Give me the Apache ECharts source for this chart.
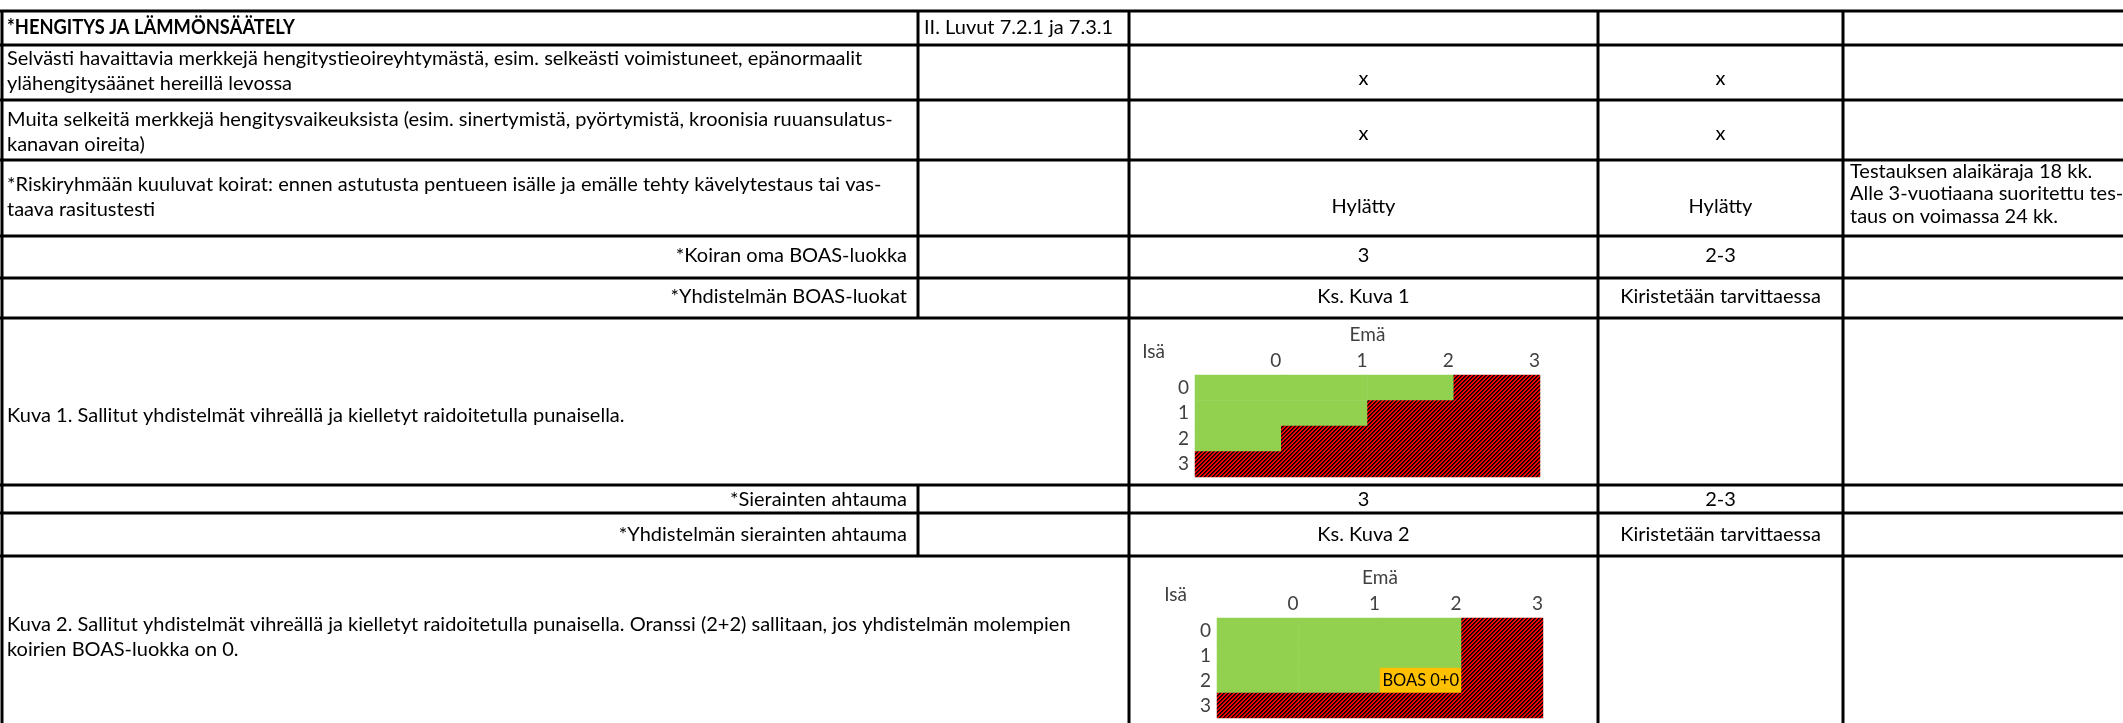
<!DOCTYPE html>
<html><head><meta charset="utf-8">
<script src="https://cdn.jsdelivr.net/npm/echarts@6/dist/echarts.min.js"></script>
<style>html,body{margin:0;padding:0;background:#fff;overflow:hidden}#c{width:2123px;height:723px}</style>
</head><body><div id="c"></div>
<script>
// ---------- DATA ----------
const criteria = [
  '*HENGITYS JA LÄMMÖNSÄÄTELY',
  'Selvästi havaittavia merkkejä hengitystieoireyhtymästä, esim. selkeästi voimistuneet, epänormaalit\nylähengitysäänet hereillä levossa',
  'Muita selkeitä merkkejä hengitysvaikeuksista (esim. sinertymistä, pyörtymistä, kroonisia ruuansulatus-\nkanavan oireita)',
  '*Riskiryhmään kuuluvat koirat: ennen astutusta pentueen isälle ja emälle tehty kävelytestaus tai vas-\ntaava rasitustesti',
  '*Koiran oma BOAS-luokka',
  '*Yhdistelmän BOAS-luokat',
  'Kuva 1. Sallitut yhdistelmät vihreällä ja kielletyt raidoitetulla punaisella.',
  '*Sierainten ahtauma',
  '*Yhdistelmän sierainten ahtauma',
  'Kuva 2. Sallitut yhdistelmät vihreällä ja kielletyt raidoitetulla punaisella. Oranssi (2+2) sallitaan, jos yhdistelmän molempien\nkoirien BOAS-luokka on 0.'
];
const references = ['II. Luvut 7.2.1 ja 7.3.1', '', '', '', '', '', '', '', '', ''];
const colC = ['', 'x', 'x', 'Hylätty', '3', 'Ks. Kuva 1', '', '3', 'Ks. Kuva 2', ''];
const colD = ['', 'x', 'x', 'Hylätty', '2-3', 'Kiristetään tarvittaessa', '', '2-3', 'Kiristetään tarvittaessa', ''];
const colE = ['', '', '', 'Testauksen alaikäraja 18 kk.\nAlle 3-vuotiaana suoritettu tes-\ntaus on voimassa 24 kk.', '', '', '', '', '', ''];

// Figure axes
const emaLabels = ['0', '1', '2', '3'];   // Emä (columns)
const isaLabels = ['0', '1', '2', '3'];   // Isä (rows)
const emaName = 'Emä';
const isaName = 'Isä';
// status: 0 = sallittu (vihreä), 1 = kielletty (raidoitettu punainen), 2 = oranssi
const kuva1Status = [
  [0, 0, 0, 1],
  [0, 0, 1, 1],
  [0, 1, 1, 1],
  [1, 1, 1, 1]
];
const kuva2Status = [
  [0, 0, 0, 1],
  [0, 0, 0, 1],
  [0, 0, 2, 1],
  [1, 1, 1, 1]
];
const orangeLabel = 'BOAS 0+0';

// ---------- LAYOUT ----------
const FONT = 'Lato, "Liberation Sans", sans-serif';
const rowBounds = [11, 45, 100, 160, 236, 278, 318, 485, 513, 556, 723];
const colX = [2, 918, 1129, 1598, 1843];
const mergedAB = [false, false, false, false, false, false, true, false, false, true];
const alignA = ['left', 'left', 'left', 'left', 'right', 'right', 'left', 'right', 'right', 'left'];
const yA = [28, 71, 132, 197, 256, 297, 416, 500, 535, 637];
const yCD = [28, 79, 134, 207, 256, 297, 416, 500, 535, 637];
const yE = [28, 0, 0, 194, 0, 0, 0, 0, 0, 0];

const FS = 20;
function measure(str, weight) {
  const ctx = document.createElement('canvas').getContext('2d');
  ctx.font = (weight || 'normal') + ' ' + FS + 'px ' + FONT;
  return ctx.measureText(str).width;
}
const SX = Math.min(1, 1072 / measure(criteria[9].split('\n')[0]));
const SXB = Math.min(1, 288 / measure(criteria[0], 'bold'));
const LH = 25.5;

function hatch() {
  const c = document.createElement('canvas');
  c.width = 8; c.height = 8;
  const g = c.getContext('2d');
  const img = g.createImageData(8, 8);
  for (let y = 0; y < 8; y++) for (let x = 0; x < 8; x++) {
    const k = (x + y) % 4;
    const i = (y * 8 + x) * 4;
    let col = k === 0 ? [0, 0, 0] : (k === 1 ? [70, 0, 0] : [240, 0, 0]);
    img.data[i] = col[0]; img.data[i + 1] = col[1]; img.data[i + 2] = col[2]; img.data[i + 3] = 255;
  }
  g.putImageData(img, 0, 0);
  return c;
}
const hatchPattern = { image: hatch(), repeat: 'repeat' };
const statusColor = ['#92D050', hatchPattern, '#FFC000'];

// ---------- TABLE GRAPHICS ----------
const graphics = [];
function line(x1, y1, x2, y2) {
  graphics.push({ type: 'line', shape: { x1, y1, x2, y2 }, style: { stroke: '#000', lineWidth: 3 }, z: 10 });
}
function text(str, x, y, align, opt, sx) {
  if (!str) return;
  graphics.push({ type: 'text', x, y, scaleX: sx || SX, style: Object.assign({
    text: str, fill: '#000', fontFamily: FONT, fontSize: FS, align, verticalAlign: 'middle', lineHeight: LH
  }, opt || {}), z: 11 });
}
for (let i = 0; i < rowBounds.length - 1; i++) line(0, rowBounds[i], 2123, rowBounds[i]);
for (let r = 0; r < criteria.length; r++) {
  const y1 = rowBounds[r], y2 = rowBounds[r + 1];
  colX.forEach((x, k) => { if (k === 1 && mergedAB[r]) return; line(x, y1, x, y2); });
  const isHeader = r === 0;
  text(criteria[r], alignA[r] === 'left' ? 7 : 907, yA[r], alignA[r], isHeader ? { fontWeight: 'bold' } : null, isHeader ? SXB : SX);
  text(references[r], 924, yA[r], 'left');
  text(colC[r], (colX[2] + colX[3]) / 2, yCD[r], 'center');
  text(colD[r], (colX[3] + colX[4]) / 2, yCD[r], 'center');
  text(colE[r], 1850, yE[r], 'left', { lineHeight: 22.5 });
}

// ---------- HEATMAPS ----------
function heatData(status) {
  const out = [];
  status.forEach((row, r) => row.forEach((s, c) => {
    const item = { value: [c, r, s], itemStyle: { color: statusColor[s] } };
    if (s === 2) item.label = { show: true, formatter: orangeLabel, color: '#000', fontSize: 16.5, fontFamily: FONT };
    out.push(item);
  }));
  return out;
}
const labelColor = '#404040';
const CFS = 19;
function axesFor(gi, nameGapE) {
  return {
    x: [
      { gridIndex: gi, type: 'category', data: emaLabels, show: false },
      { gridIndex: gi, type: 'category', data: [''].concat(emaLabels), boundaryGap: false, position: 'top',
        axisLine: { show: false }, axisTick: { show: false }, splitLine: { show: false },
        axisLabel: { interval: 0, align: 'right', margin: 5, color: labelColor, fontSize: CFS, fontFamily: FONT, hideOverlap: false },
        name: emaName, nameLocation: 'middle', nameGap: nameGapE,
        nameTextStyle: { color: labelColor, fontSize: CFS, fontFamily: FONT } }
    ],
    y: { gridIndex: gi, type: 'category', data: isaLabels, inverse: true,
      axisLine: { show: false }, axisTick: { show: false }, splitLine: { show: false },
      axisLabel: { interval: 0, margin: 6, color: labelColor, fontSize: CFS, fontFamily: FONT },
      name: isaName, nameLocation: 'start', nameGap: 14,
      nameTextStyle: { color: labelColor, fontSize: CFS, fontFamily: FONT, align: 'right', padding: [0, 30, 0, 0] } }
  };
}
const a1 = axesFor(0, 31), a2 = axesFor(1, 31);

const option = {
  backgroundColor: '#fff',
  animation: false,
  grid: [
    { left: 1195, top: 375, width: 345, height: 102 },
    { left: 1217, top: 618, width: 326, height: 100 }
  ],
  xAxis: a1.x.concat(a2.x),
  yAxis: [a1.y, a2.y],
  series: [
    { type: 'heatmap', xAxisIndex: 0, yAxisIndex: 0, data: heatData(kuva1Status), itemStyle: { borderWidth: 0 }, emphasis: { disabled: true } },
    { type: 'heatmap', xAxisIndex: 2, yAxisIndex: 1, data: heatData(kuva2Status), itemStyle: { borderWidth: 0 }, emphasis: { disabled: true } }
  ],
  graphic: graphics
};
const chart = echarts.init(document.getElementById('c'), null, { renderer: 'canvas' });
chart.setOption(option);
</script></body></html>
